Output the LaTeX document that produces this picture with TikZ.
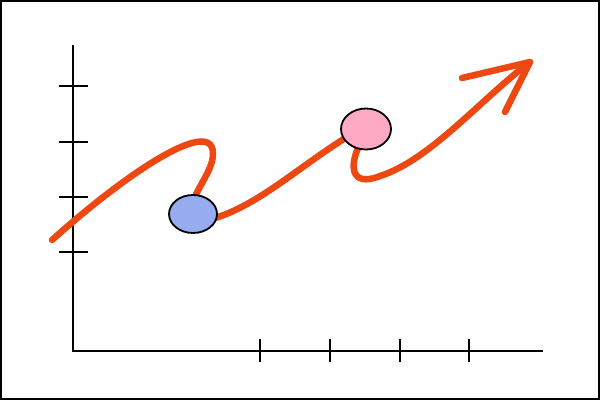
\documentclass[tikz,border=0pt]{standalone}
\usetikzlibrary{shapes.geometric}
\definecolor{curvecol}{RGB}{238,72,18}
\definecolor{bluefill}{RGB}{150,172,238}
\definecolor{pinkfill}{RGB}{255,170,196}
\tikzset{
  axisline/.style={line width=2pt, black},
  tickline/.style={line width=2pt, black},
  curveline/.style={line width=6.5pt, curvecol, line cap=round, line join=round},
  blob/.style={ellipse, draw=black, line width=1.8pt, inner sep=0pt},
}
\begin{document}
\begin{tikzpicture}[x=1pt,y=-1pt]
\useasboundingbox (0,0) rectangle (600,400);
\draw[line width=2pt] (1,1) rectangle (599,399);
% axes
\coordinate (ytop) at (73,45);
\coordinate (orig) at (73,351);
\coordinate (xend) at (543,351);
\draw[axisline] (ytop) -- (orig) -- (xend);
\foreach \y in {86,142,197,252} \draw[tickline] (59,\y) -- (88,\y);
\foreach \x in {260,330,400,469} \draw[tickline] (\x,339) -- (\x,362);
% curve
\coordinate (s) at (52,240);
\coordinate (turn) at (213,155);
\coordinate (bin) at (190,210);
\coordinate (bout) at (212,219);
\coordinate (pin) at (355,132);
\coordinate (pout) at (362,140);
\coordinate (low) at (380,176);
\coordinate (tip) at (530,62);
\coordinate (barbA) at (462,78);
\coordinate (barbB) at (505,112);
\draw[curveline] (s) .. controls (130,170) and (215,115) .. (turn)
  .. controls (212,172) and (196,188) .. (bin) -- (bout)
  .. controls (260,205) and (300,165) .. (pin) -- (pout)
  .. controls (348,165) and (350,188) .. (low)
  .. controls (430,160) and (480,100) .. (tip);
\draw[curveline] (barbA) -- (tip) -- (barbB);
% blobs
\node[blob, fill=bluefill, minimum width=48pt, minimum height=38pt] (blue) at (193,214) {};
\node[blob, fill=pinkfill, minimum width=50pt, minimum height=41pt] (pink) at (366,129) {};
\end{tikzpicture}
\end{document}
